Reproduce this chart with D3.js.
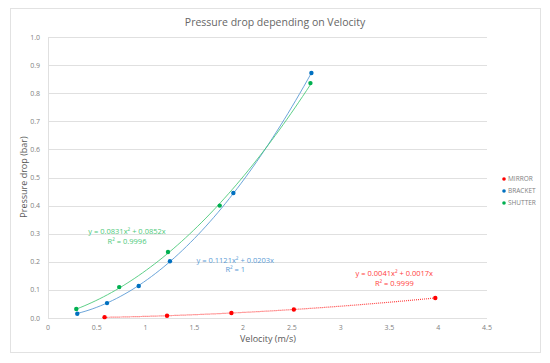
<!DOCTYPE html>
<html>
<head>
<meta charset="utf-8">
<script src="https://cdn.jsdelivr.net/npm/d3@7"></script>
<style>
  body { margin: 0; background: #fff; }
  svg { display: block; font-family: "Open Sans", "Liberation Sans", sans-serif; }
</style>
</head>
<body>
<div id="chart"></div>
<script>
const width = 550;
const height = 363;

// series
const seriesNames = ["MIRROR", "BRACKET", "SHUTTER"];
const seriesColors = ["#ff0000", "#0070c0", "#00b050"];
const trendColors = ["#ff4040", "#5b9bd5", "#4cc97a"];

const mirrorX = [0.58, 1.22, 1.88, 2.52, 3.97];
const mirrorY = [0.003, 0.008, 0.018, 0.030, 0.071];
const bracketX = [0.30, 0.605, 0.93, 1.25, 1.90, 2.70];
const bracketY = [0.015, 0.053, 0.114, 0.202, 0.445, 0.872];
const shutterX = [0.29, 0.73, 1.23, 1.76, 2.69];
const shutterY = [0.032, 0.110, 0.235, 0.400, 0.836];

// trendline coefficients (a*x^2 + b*x) as printed on the chart
const trendA = [0.0041, 0.1121, 0.0831];
const trendB = [0.0017, 0.0203, 0.0852];
const trendLabels = [
  ["y = 0.0041x² + 0.0017x", "R² = 0.9999"],
  ["y = 0.1121x² + 0.0203x", "R² = 1"],
  ["y = 0.0831x² + 0.0852x", "R² = 0.9996"]
];
// label anchor in data units
const labelPos = [[3.55, 0.148], [1.92, 0.196], [0.81, 0.298]];

const xTicks = [0, 0.5, 1, 1.5, 2, 2.5, 3, 3.5, 4, 4.5];
const yTicks = [0, 0.1, 0.2, 0.3, 0.4, 0.5, 0.6, 0.7, 0.8, 0.9, 1.0];

const xs = [mirrorX, bracketX, shutterX];
const ys = [mirrorY, bracketY, shutterY];

const margin = { left: 48, right: 63, top: 37, bottom: 45 };

const svg = d3.select("#chart").append("svg")
  .attr("width", width)
  .attr("height", height);

// chart frame
svg.append("rect")
  .attr("x", 10.5).attr("y", 8.5)
  .attr("width", 530).attr("height", 344)
  .attr("fill", "#fff")
  .attr("stroke", "#e2e2e2");

const x = d3.scaleLinear().domain([0, 4.5]).range([margin.left, width - margin.right]);
const y = d3.scaleLinear().domain([0, 1]).range([height - margin.bottom, margin.top]);

// gridlines
svg.append("g")
  .selectAll("line")
  .data(yTicks)
  .join("line")
  .attr("x1", x(0)).attr("x2", x(4.5))
  .attr("y1", d => Math.round(y(d)) + 0.5)
  .attr("y2", d => Math.round(y(d)) + 0.5)
  .attr("stroke", "#e0e0e0");

svg.append("line")
  .attr("x1", x(0) + 0.5).attr("x2", x(0) + 0.5)
  .attr("y1", y(1)).attr("y2", y(0))
  .attr("stroke", "#e0e0e0");

// tick labels
svg.append("g")
  .attr("font-size", 7)
  .attr("fill", "#7f7f7f")
  .attr("text-anchor", "end")
  .selectAll("text")
  .data(yTicks)
  .join("text")
  .attr("x", x(0) - 8)
  .attr("y", d => y(d) + 2.5)
  .text(d => d3.format(".1f")(d));

svg.append("g")
  .attr("font-size", 7)
  .attr("fill", "#7f7f7f")
  .attr("text-anchor", "middle")
  .selectAll("text")
  .data(xTicks)
  .join("text")
  .attr("x", d => x(d))
  .attr("y", y(0) + 12)
  .text(d => d);

// titles
svg.append("text")
  .attr("x", 275).attr("y", 26)
  .attr("text-anchor", "middle")
  .attr("font-size", 10.5)
  .attr("fill", "#666")
  .text("Pressure drop depending on Velocity");

svg.append("text")
  .attr("x", 268).attr("y", 342)
  .attr("text-anchor", "middle")
  .attr("font-size", 9)
  .attr("fill", "#595959")
  .text("Velocity (m/s)");

svg.append("text")
  .attr("transform", "translate(27,177) rotate(-90)")
  .attr("text-anchor", "middle")
  .attr("font-size", 9)
  .attr("fill", "#595959")
  .text("Pressure drop (bar)");

// trendlines
const line = d3.line().x(d => x(d[0])).y(d => y(d[1])).curve(d3.curveLinear);
seriesNames.forEach((name, i) => {
  const lo = d3.min(xs[i]), hi = d3.max(xs[i]);
  const pts = d3.range(0, 61).map(k => {
    const v = lo + (hi - lo) * k / 60;
    return [v, trendA[i] * v * v + trendB[i] * v];
  });
  svg.append("path")
    .datum(pts)
    .attr("fill", "none")
    .attr("stroke", trendColors[i])
    .attr("stroke-width", i === 0 ? 1.2 : 0.9)
    .attr("stroke-dasharray", i === 0 ? "1,1" : null)
    .attr("d", line);
});

// points
seriesNames.forEach((name, i) => {
  svg.append("g")
    .selectAll("circle")
    .data(xs[i].map((v, k) => [v, ys[i][k]]))
    .join("circle")
    .attr("cx", d => x(d[0]))
    .attr("cy", d => y(d[1]))
    .attr("r", 2.2)
    .attr("fill", seriesColors[i]);
});

// trendline labels
seriesNames.forEach((name, i) => {
  const t = svg.append("text")
    .attr("text-anchor", "middle")
    .attr("font-size", 7.5)
    .attr("fill", trendColors[i]);
  trendLabels[i].forEach((s, k) => {
    t.append("tspan")
      .attr("x", x(labelPos[i][0]))
      .attr("y", y(labelPos[i][1]) + k * 9.5)
      .text(s);
  });
});

// legend
const legend = svg.append("g")
  .selectAll("g")
  .data(seriesNames)
  .join("g")
  .attr("transform", (d, i) => `translate(504,${179 + i * 12})`);
legend.append("circle")
  .attr("r", 1.8)
  .attr("fill", (d, i) => seriesColors[i]);
legend.append("text")
  .attr("x", 4)
  .attr("y", 2.3)
  .attr("font-size", 6.5)
  .attr("fill", "#7f7f7f")
  .text(d => d);
</script>
</body>
</html>
